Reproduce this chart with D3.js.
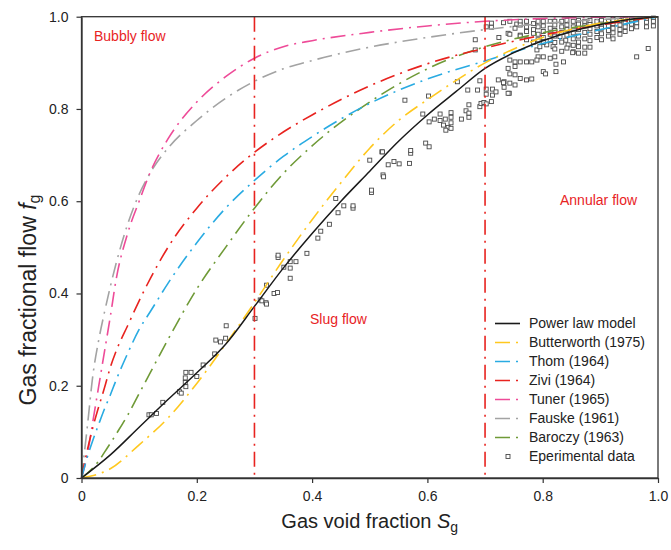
<!DOCTYPE html>
<html>
<head>
<meta charset="utf-8">
<script src="https://cdn.jsdelivr.net/npm/d3@7"></script>
<style>
  html, body { margin: 0; padding: 0; background: #fff; }
  svg { display: block; font-family: "Liberation Sans", Arial, sans-serif; }
</style>
</head>
<body>
<svg id="chart" width="671" height="550"></svg>
<script>
// Gas void fraction grid used by the correlation curves
const sgFine = [0, 0.01, 0.02, 0.03, 0.04, 0.05, 0.06, 0.08, 0.1, 0.12, 0.15, 0.2, 0.25, 0.3, 0.35, 0.4, 0.5, 0.6, 0.7, 0.8, 0.9, 1.0];
const sgCoarse = [0, 0.05, 0.1, 0.15, 0.2, 0.25, 0.3, 0.35, 0.4, 0.45, 0.5, 0.55, 0.6, 0.65, 0.7, 0.75, 0.8, 0.85, 0.9, 0.95, 1.0];

// Gas fractional flow for each model
const powerLaw    = [0, 0.05, 0.11, 0.17, 0.228, 0.29, 0.372, 0.455, 0.53, 0.60, 0.665, 0.73, 0.787, 0.838, 0.888, 0.922, 0.948, 0.968, 0.983, 0.994, 1.0];
const butterworth = [0, 0.02, 0.072, 0.13, 0.205, 0.29, 0.38, 0.473, 0.56, 0.64, 0.715, 0.775, 0.82, 0.862, 0.9, 0.93, 0.955, 0.973, 0.986, 0.995, 1.0];
const thom        = [0, 0.045, 0.083, 0.117, 0.15, 0.18, 0.212, 0.27, 0.322, 0.362, 0.422, 0.51, 0.585, 0.645, 0.697, 0.74, 0.812, 0.865, 0.904, 0.942, 0.972, 1.0];
const zivi        = [0, 0.06, 0.111, 0.155, 0.196, 0.24, 0.275, 0.33, 0.384, 0.434, 0.50, 0.585, 0.652, 0.706, 0.75, 0.787, 0.85, 0.898, 0.932, 0.96, 0.982, 1.0];
const tuner       = [0, 0.05, 0.125, 0.20, 0.275, 0.35, 0.43, 0.53, 0.60, 0.665, 0.735, 0.815, 0.87, 0.91, 0.935, 0.948, 0.966, 0.98, 0.99, 0.996, 0.999, 1.0];
const fauske      = [0, 0.11, 0.225, 0.30, 0.36, 0.415, 0.465, 0.55, 0.615, 0.663, 0.715, 0.775, 0.823, 0.86, 0.887, 0.905, 0.934, 0.955, 0.972, 0.985, 0.994, 1.0];
const baroczy     = [0, 0.01, 0.022, 0.037, 0.056, 0.075, 0.095, 0.136, 0.183, 0.23, 0.30, 0.41, 0.50, 0.585, 0.66, 0.72, 0.815, 0.887, 0.935, 0.965, 0.985, 1.0];

// Series names and colours
const seriesNames  = ["Power law model", "Butterworth (1975)", "Thom (1964)", "Zivi (1964)", "Tuner (1965)", "Fauske (1961)", "Baroczy (1963)"];
const seriesColors = ["#1a1a1a", "#FFC81E", "#29ABE2", "#E8231F", "#EE4B98", "#A3A3A3", "#6F9A37"];

// Flow regime boundaries and labels
const regimeBounds = [0.3, 0.7];
const regimeLabels = ["Bubbly flow", "Slug flow", "Annular flow"];

// Axis ticks
const xTicks = [0, 0.2, 0.4, 0.6, 0.8, 1.0];
const yTicks = [0, 0.2, 0.4, 0.6, 0.8, 1.0];

// Experimental data: [void fraction, fractional flow]
const expData = [
  [0.117,0.137],[0.121,0.137],[0.130,0.140],[0.141,0.164],[0.170,0.187],[0.173,0.184],[0.181,0.198],[0.180,0.207],
  [0.180,0.217],[0.181,0.229],[0.190,0.229],[0.200,0.220],[0.211,0.245],[0.231,0.269],[0.233,0.299],[0.241,0.295],
  [0.250,0.303],[0.251,0.330],[0.301,0.346],[0.310,0.386],[0.313,0.384],[0.320,0.380],[0.321,0.377],[0.321,0.418],
  [0.334,0.400],[0.340,0.402],[0.341,0.478],[0.341,0.483],[0.351,0.457],[0.362,0.455],[0.362,0.433],[0.362,0.469],
  [0.372,0.469],[0.391,0.487],[0.410,0.520],[0.415,0.535],[0.430,0.550],[0.445,0.575],[0.455,0.590],
  [0.441,0.606],[0.471,0.585],[0.471,0.590],[0.500,0.689],[0.503,0.619],[0.503,0.624],[0.521,0.707],[0.523,0.657],
  [0.524,0.653],[0.532,0.679],[0.542,0.686],[0.551,0.681],[0.569,0.682],[0.522,0.707],[0.571,0.704],[0.571,0.710],
  [0.597,0.726],[0.603,0.718],[0.561,0.819],[0.592,0.789],[0.602,0.828],[0.603,0.772],[0.612,0.778],[0.622,0.775],
  [0.631,0.778],[0.622,0.789],[0.628,0.765],[0.636,0.760],[0.632,0.754],[0.641,0.758],[0.641,0.770],[0.641,0.782],
  [0.641,0.792],[0.659,0.778],[0.667,0.796],[0.672,0.782],[0.672,0.791],[0.672,0.809],[0.652,0.859],[0.670,0.841],
  [0.687,0.841],[0.691,0.861],[0.702,0.843],[0.702,0.832],[0.713,0.843],[0.713,0.830],[0.719,0.837],[0.691,0.805],
  [0.693,0.812],[0.698,0.814],[0.702,0.811],[0.711,0.816],[0.733,0.859],[0.733,0.847],[0.742,0.834],
  [0.683,0.950],[0.683,0.928],[0.702,0.978],[0.711,0.986],[0.711,0.977],[0.732,0.987],[0.724,0.955],[0.740,0.964],
  [0.755,0.984],[0.752,0.975],[0.761,0.960],[0.772,0.968],[0.784,0.964],[0.752,0.902],[0.752,0.892],[0.761,0.902],
  [0.772,0.902],[0.740,0.888],[0.743,0.876],[0.752,0.874],[0.761,0.866],[0.772,0.863],[0.723,0.863],[0.732,0.857],
  [0.743,0.856],[0.752,0.852],[0.740,0.834],[0.781,0.865],[0.792,0.913],[0.801,0.913],[0.813,0.910],[0.821,0.913],
  [0.801,0.881],[0.805,0.876],[0.823,0.897],[0.823,0.881],[0.836,0.902],[0.790,0.928],[0.795,0.935],[0.807,0.939],
  [0.818,0.935],[0.830,0.957],[0.840,0.949],[0.844,0.939],[0.853,0.924],[0.862,0.921],[0.873,0.921],[0.882,0.934],
  [0.983,0.931],[0.963,0.913],[0.781,0.902],[0.790,0.906],[0.743,0.906],[0.873,0.934],[0.852,0.922],
  [0.743,0.990],[0.743,0.962],
  [0.761,0.990],[0.761,0.982],[0.761,0.958],
  [0.772,0.990],[0.772,0.978],[0.772,0.950],
  [0.784,0.985],[0.784,0.972],[0.784,0.945],
  [0.792,0.990],[0.792,0.978],[0.792,0.962],[0.792,0.950],
  [0.801,0.990],[0.801,0.980],[0.801,0.968],[0.801,0.955],[0.801,0.944],
  [0.813,0.990],[0.813,0.975],[0.813,0.962],[0.813,0.948],
  [0.821,0.990],[0.821,0.982],[0.821,0.970],[0.821,0.958],[0.821,0.944],[0.821,0.930],
  [0.833,0.990],[0.833,0.978],[0.833,0.966],[0.833,0.945],[0.833,0.925],
  [0.842,0.992],[0.842,0.982],[0.842,0.972],[0.842,0.960],[0.842,0.932],
  [0.853,0.990],[0.853,0.978],[0.853,0.965],[0.853,0.952],[0.853,0.938],
  [0.862,0.992],[0.862,0.984],[0.862,0.972],[0.862,0.958],[0.862,0.945],[0.862,0.935],
  [0.873,0.990],[0.873,0.980],[0.873,0.966],[0.873,0.952],
  [0.882,0.992],[0.882,0.983],[0.882,0.974],[0.882,0.962],[0.882,0.948],
  [0.894,0.990],[0.894,0.980],[0.894,0.968],[0.894,0.955],
  [0.902,0.992],[0.902,0.984],[0.902,0.975],[0.902,0.963],[0.902,0.950],
  [0.914,0.990],[0.914,0.980],[0.914,0.970],[0.914,0.958],
  [0.922,0.994],[0.922,0.985],[0.922,0.975],[0.922,0.965],[0.922,0.952],
  [0.934,0.992],[0.934,0.982],[0.934,0.972],[0.934,0.962],
  [0.943,0.994],[0.943,0.986],[0.943,0.978],[0.943,0.968],
  [0.954,0.993],[0.954,0.984],[0.954,0.974],
  [0.963,0.995],[0.963,0.987],[0.963,0.978],
  [0.980,0.996],[0.980,0.988],[0.980,0.978],
  [0.992,0.997],[0.992,0.990],[0.992,0.980]
];

const svg = d3.select("#chart");
const x = d3.scaleLinear().domain([0, 1]).range([81.5, 658]);
const y = d3.scaleLinear().domain([0, 1]).range([478, 16.7]);

const dashDot = "15,6,2,6";
const fmt = d => d === 0 ? "0" : d.toFixed(1);

// Experimental points (hollow squares)
svg.append("g").selectAll("rect").data(expData).join("rect")
  .attr("x", d => x(d[0]) - 2).attr("y", d => y(d[1]) - 2)
  .attr("width", 4).attr("height", 4)
  .attr("fill", "#fff").attr("stroke", "#4a4a4a").attr("stroke-width", 0.9);

// Model curves
const curveSets = [
  [sgCoarse, powerLaw], [sgCoarse, butterworth], [sgFine, thom], [sgFine, zivi],
  [sgFine, tuner], [sgFine, fauske], [sgFine, baroczy]
];
const line = d3.line().x(d => x(d[0])).y(d => y(d[1])).curve(d3.curveMonotoneX);
const drawOrder = [6, 5, 4, 3, 2, 1, 0];
drawOrder.forEach(i => {
  const [xs, ys] = curveSets[i];
  svg.append("path")
    .datum(xs.map((v, k) => [v, ys[k]]))
    .attr("d", line)
    .attr("fill", "none")
    .attr("stroke", seriesColors[i])
    .attr("stroke-width", i === 0 ? 1.5 : 1.6)
    .attr("stroke-dasharray", i === 0 ? null : dashDot);
});

// Regime boundaries
svg.append("g").selectAll("line").data(regimeBounds).join("line")
  .attr("x1", d => x(d)).attr("x2", d => x(d))
  .attr("y1", y(1)).attr("y2", y(0))
  .attr("stroke", "#E8231F").attr("stroke-width", 1.6)
  .attr("stroke-dasharray", dashDot);

// Regime labels
const regimePos = [[94, 41], [310, 324], [560, 205]];
svg.append("g").selectAll("text").data(regimeLabels).join("text")
  .attr("x", (d, i) => regimePos[i][0]).attr("y", (d, i) => regimePos[i][1])
  .attr("fill", "#E8231F").attr("font-size", 14).text(d => d);

// Axes
const xAxis = svg.append("g").attr("transform", `translate(0,${y(0)})`)
  .call(d3.axisBottom(x).tickValues(xTicks).tickFormat(fmt).tickSize(5).tickPadding(8).tickSizeOuter(0));
const yAxis = svg.append("g").attr("transform", `translate(${x(0)},0)`)
  .call(d3.axisLeft(y).tickValues(yTicks).tickFormat(fmt).tickSize(5).tickPadding(8).tickSizeOuter(0));
[xAxis, yAxis].forEach(g => {
  g.selectAll("text").attr("font-size", 14).attr("fill", "#222").attr("font-family", "Liberation Sans, Arial, sans-serif");
  g.selectAll("line").attr("stroke", "#333").attr("stroke-width", 1.2);
  g.select(".domain").attr("stroke", "#333").attr("stroke-width", 1.3);
});

// Plot frame
svg.append("rect")
  .attr("x", x(0)).attr("y", y(1))
  .attr("width", x(1) - x(0)).attr("height", y(0) - y(1))
  .attr("fill", "none").attr("stroke", "#333").attr("stroke-width", 1.3);

// Axis titles
const xTitle = svg.append("text").attr("x", (x(0) + x(1)) / 2).attr("y", 528)
  .attr("text-anchor", "middle").attr("font-size", 20).attr("fill", "#222");
xTitle.append("tspan").text("Gas void fraction ");
xTitle.append("tspan").attr("font-style", "italic").text("S");
xTitle.append("tspan").attr("font-size", 14).attr("dy", 4).text("g");

const yTitle = svg.append("text")
  .attr("transform", `translate(36,300) rotate(-90)`)
  .attr("text-anchor", "middle").attr("font-size", 23).attr("fill", "#222");
yTitle.append("tspan").text("Gas fractional flow ");
yTitle.append("tspan").attr("font-style", "italic").text("f");
yTitle.append("tspan").attr("font-size", 16).attr("dy", 4).text("g");

// Legend
const legend = svg.append("g");
const legendY = i => 323.5 + i * 19;
seriesNames.forEach((name, i) => {
  legend.append("line")
    .attr("x1", 495).attr("x2", 520).attr("y1", legendY(i)).attr("y2", legendY(i))
    .attr("stroke", seriesColors[i]).attr("stroke-width", 1.6)
    .attr("stroke-dasharray", i === 0 ? null : dashDot);
  legend.append("text").attr("x", 529).attr("y", legendY(i)).attr("dy", "0.35em")
    .attr("font-size", 14).attr("fill", "#222").text(name);
});
legend.append("rect")
  .attr("x", 506).attr("y", legendY(7) - 2).attr("width", 4).attr("height", 4)
  .attr("fill", "#fff").attr("stroke", "#4a4a4a").attr("stroke-width", 0.9);
legend.append("text").attr("x", 529).attr("y", legendY(7)).attr("dy", "0.35em")
  .attr("font-size", 14).attr("fill", "#222").text("Eperimental data");
</script>
</body>
</html>
